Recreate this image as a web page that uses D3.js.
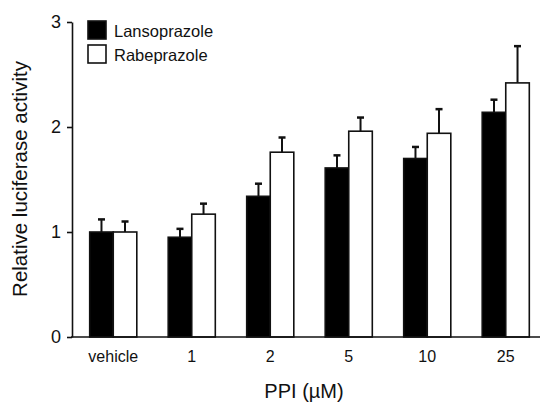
<!DOCTYPE html>
<html>
<head>
<meta charset="utf-8">
<script src="https://cdn.jsdelivr.net/npm/d3@7"></script>
<style>
  body { margin: 0; background: #fff; }
  svg { display: block; font-family: Arial, "Liberation Sans", sans-serif; }
</style>
</head>
<body>
<svg id="chart" width="544" height="403"></svg>
<script>
'use strict'

// doses on the x axis
const doses = ['vehicle', '1', '2', '5', '10', '25']
const seriesNames = ['Lansoprazole', 'Rabeprazole']
const lansoprazole = [1.0, 0.95, 1.34, 1.61, 1.70, 2.14]
const lansoprazoleErr = [0.12, 0.08, 0.12, 0.12, 0.11, 0.12]
const rabeprazole = [1.0, 1.17, 1.76, 1.96, 1.94, 2.42]
const rabeprazoleErr = [0.10, 0.10, 0.14, 0.13, 0.23, 0.35]
const yTicks = [0, 1, 2, 3]

const rows = doses.map((dose, i) => ({
  dose,
  values: [
    { series: seriesNames[0], value: lansoprazole[i], err: lansoprazoleErr[i] },
    { series: seriesNames[1], value: rabeprazole[i], err: rabeprazoleErr[i] }
  ]
}))

const svg = d3.select('#chart')
const ink = '#111'

const y = d3.scaleLinear().domain([0, 3]).range([337, 22])
const x = d3.scaleBand().domain(doses).range([74, 545]).paddingInner(0.4).paddingOuter(0.2)
const xSeries = d3.scaleBand().domain(seriesNames).range([0, x.bandwidth()])
const fill = d3.scaleOrdinal().domain(seriesNames).range(['#000', '#fff'])

const axisX = 72

// y axis
const gy = svg.append('g')
  .attr('transform', `translate(${axisX},0)`)
  .call(d3.axisLeft(y).tickValues(yTicks).tickSize(5).tickSizeOuter(0).tickPadding(6).tickFormat(d3.format('d')))
gy.select('.domain').attr('stroke', ink).attr('stroke-width', 1.6)
gy.selectAll('.tick line').attr('stroke', ink).attr('stroke-width', 1.6)
gy.selectAll('.tick text').attr('fill', ink).style('font-size', '18px')

// x axis: labels only, baseline drawn by hand
const gx = svg.append('g')
  .attr('transform', `translate(0,${y(0)})`)
  .call(d3.axisBottom(x).tickSize(0).tickPadding(14))
gx.select('.domain').remove()
gx.selectAll('.tick text').attr('fill', ink).style('font-size', '16px')

// bars
const groups = svg.append('g').selectAll('g.dose')
  .data(rows)
  .join('g')
  .attr('class', 'dose')
  .attr('transform', d => `translate(${x(d.dose)},0)`)

// error bars first, so the bar top covers the foot of the whisker
groups.selectAll('g.err')
  .data(d => d.values)
  .join('g')
  .attr('class', 'err')
  .each(function (d) {
    const g = d3.select(this)
    const cx = xSeries(d.series) + xSeries.bandwidth() / 2
    g.append('line')
      .attr('x1', cx).attr('x2', cx)
      .attr('y1', y(d.value)).attr('y2', y(d.value + d.err))
      .attr('stroke', ink).attr('stroke-width', 2)
    g.append('line')
      .attr('x1', cx - 3.5).attr('x2', cx + 3.5)
      .attr('y1', y(d.value + d.err)).attr('y2', y(d.value + d.err))
      .attr('stroke', ink).attr('stroke-width', 2.5)
  })

groups.selectAll('rect')
  .data(d => d.values)
  .join('rect')
  .attr('x', d => xSeries(d.series))
  .attr('y', d => y(d.value))
  .attr('width', xSeries.bandwidth())
  .attr('height', d => y(0) - y(d.value))
  .attr('fill', d => fill(d.series))
  .attr('stroke', ink)
  .attr('stroke-width', 1.6)

// x baseline
svg.append('line')
  .attr('x1', axisX - 1).attr('x2', 540)
  .attr('y1', y(0)).attr('y2', y(0))
  .attr('stroke', ink).attr('stroke-width', 1.6)

// axis titles
svg.append('text')
  .attr('x', 304).attr('y', 398)
  .attr('text-anchor', 'middle')
  .attr('fill', ink)
  .style('font-size', '20px')
  .text('PPI (µM)')

svg.append('text')
  .attr('transform', 'translate(27,179) rotate(-90)')
  .attr('text-anchor', 'middle')
  .attr('fill', ink)
  .style('font-size', '20.5px')
  .text('Relative luciferase activity')

// legend
const legend = svg.append('g').attr('transform', 'translate(88,21)')
const item = legend.selectAll('g')
  .data(seriesNames)
  .join('g')
  .attr('transform', (d, i) => `translate(0,${i * 24})`)
item.append('rect')
  .attr('width', 18).attr('height', 18)
  .attr('fill', d => fill(d))
  .attr('stroke', ink).attr('stroke-width', 1.6)
item.append('text')
  .attr('x', 26).attr('y', 16)
  .attr('fill', ink)
  .style('font-size', '16.5px')
  .text(d => d)
</script>
</body>
</html>
